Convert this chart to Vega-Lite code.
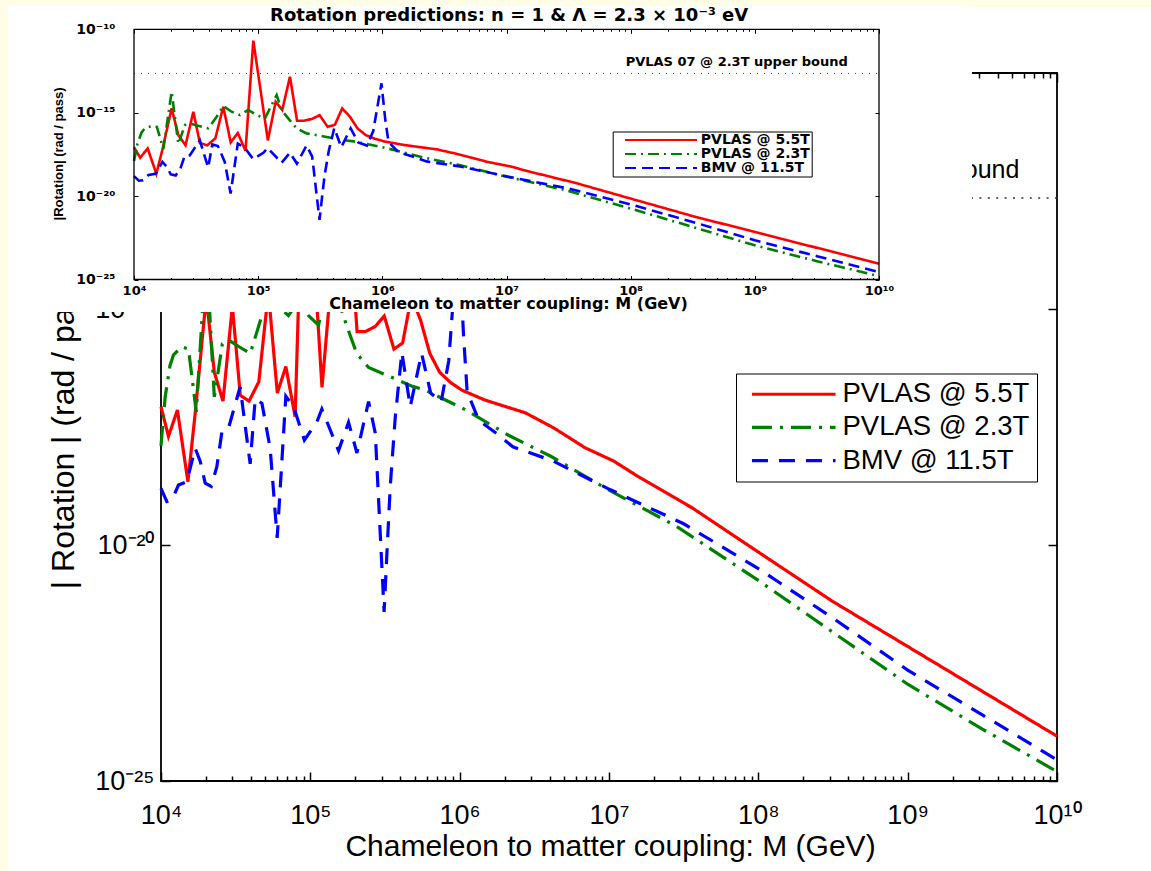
{
  "$schema": "https://vega.github.io/schema/vega-lite/v6.json",
  "width": 896,
  "height": 708,
  "autosize": {"type": "none"},
  "padding": {"left": 161, "top": 73, "right": 94, "bottom": 90},
  "background": "white",
  "config": {
    "view": {"stroke": "black", "strokeWidth": 1.8},
    "axis": {"domain": false, "grid": false, "tickColor": "black", "labelColor": "black", "titleColor": "black", "labelFlush": false, "labelOverlap": false, "labelBound": false}
  },
  "datasets": {
    "curves": [
      {"M": 1e4, "R": 8.51e-18, "s": "PVLAS @ 5.5T"},
      {"M": 1.122e4, "R": 2.0e-18, "s": "PVLAS @ 5.5T"},
      {"M": 1.288e4, "R": 7.24e-18, "s": "PVLAS @ 5.5T"},
      {"M": 1.514e4, "R": 2.19e-19, "s": "PVLAS @ 5.5T"},
      {"M": 1.69e4, "R": 5.75e-18, "s": "PVLAS @ 5.5T"},
      {"M": 2.01e4, "R": 1.82e-15, "s": "PVLAS @ 5.5T"},
      {"M": 2.275e4, "R": 4.57e-17, "s": "PVLAS @ 5.5T"},
      {"M": 2.6e4, "R": 1.12e-17, "s": "PVLAS @ 5.5T"},
      {"M": 3.006e4, "R": 1.148e-15, "s": "PVLAS @ 5.5T"},
      {"M": 3.396e4, "R": 1.479e-17, "s": "PVLAS @ 5.5T"},
      {"M": 3.89e4, "R": 1.12e-17, "s": "PVLAS @ 5.5T"},
      {"M": 4.52e4, "R": 2.88e-17, "s": "PVLAS @ 5.5T"},
      {"M": 5.236e4, "R": 2.29e-15, "s": "PVLAS @ 5.5T"},
      {"M": 6.01e4, "R": 1.66e-17, "s": "PVLAS @ 5.5T"},
      {"M": 6.855e4, "R": 6.03e-17, "s": "PVLAS @ 5.5T"},
      {"M": 7.907e4, "R": 5.25e-18, "s": "PVLAS @ 5.5T"},
      {"M": 9.14e4, "R": 2.09e-11, "s": "PVLAS @ 5.5T"},
      {"M": 1.197e5, "R": 2.19e-17, "s": "PVLAS @ 5.5T"},
      {"M": 1.384e5, "R": 4.57e-15, "s": "PVLAS @ 5.5T"},
      {"M": 1.563e5, "R": 1.445e-15, "s": "PVLAS @ 5.5T"},
      {"M": 1.803e5, "R": 1.445e-13, "s": "PVLAS @ 5.5T"},
      {"M": 2.056e5, "R": 3.31e-16, "s": "PVLAS @ 5.5T"},
      {"M": 2.333e5, "R": 3.31e-16, "s": "PVLAS @ 5.5T"},
      {"M": 2.72e5, "R": 4.27e-16, "s": "PVLAS @ 5.5T"},
      {"M": 3.126e5, "R": 7.08e-16, "s": "PVLAS @ 5.5T"},
      {"M": 3.63e5, "R": 1.413e-16, "s": "PVLAS @ 5.5T"},
      {"M": 4.15e5, "R": 1.905e-16, "s": "PVLAS @ 5.5T"},
      {"M": 4.75e5, "R": 1.82e-15, "s": "PVLAS @ 5.5T"},
      {"M": 5.48e5, "R": 5.75e-16, "s": "PVLAS @ 5.5T"},
      {"M": 6.31e5, "R": 1.148e-16, "s": "PVLAS @ 5.5T"},
      {"M": 7.345e5, "R": 4.57e-17, "s": "PVLAS @ 5.5T"},
      {"M": 8.71e5, "R": 2.754e-17, "s": "PVLAS @ 5.5T"},
      {"M": 1.035e6, "R": 1.905e-17, "s": "PVLAS @ 5.5T"},
      {"M": 1.479e6, "R": 1.175e-17, "s": "PVLAS @ 5.5T"},
      {"M": 2.754e6, "R": 6.31e-18, "s": "PVLAS @ 5.5T"},
      {"M": 4.266e6, "R": 3.02e-18, "s": "PVLAS @ 5.5T"},
      {"M": 6.918e6, "R": 1.148e-18, "s": "PVLAS @ 5.5T"},
      {"M": 1.072e7, "R": 6.03e-19, "s": "PVLAS @ 5.5T"},
      {"M": 1.549e7, "R": 2.884e-19, "s": "PVLAS @ 5.5T"},
      {"M": 3.631e7, "R": 6.03e-20, "s": "PVLAS @ 5.5T"},
      {"M": 1e8, "R": 7.08e-21, "s": "PVLAS @ 5.5T"},
      {"M": 3.162e8, "R": 6.31e-22, "s": "PVLAS @ 5.5T"},
      {"M": 1e9, "R": 7.08e-23, "s": "PVLAS @ 5.5T"},
      {"M": 3.162e9, "R": 7.94e-24, "s": "PVLAS @ 5.5T"},
      {"M": 1e10, "R": 8.91e-25, "s": "PVLAS @ 5.5T"},

      {"M": 1e4, "R": 1.259e-18, "s": "PVLAS @ 2.3T"},
      {"M": 1.067e4, "R": 1.38e-17, "s": "PVLAS @ 2.3T"},
      {"M": 1.148e4, "R": 6.31e-17, "s": "PVLAS @ 2.3T"},
      {"M": 1.213e4, "R": 1.072e-16, "s": "PVLAS @ 2.3T"},
      {"M": 1.38e4, "R": 1.585e-16, "s": "PVLAS @ 2.3T"},
      {"M": 1.528e4, "R": 1.413e-16, "s": "PVLAS @ 2.3T"},
      {"M": 1.722e4, "R": 6.61e-18, "s": "PVLAS @ 2.3T"},
      {"M": 2.01e4, "R": 1.82e-14, "s": "PVLAS @ 2.3T"},
      {"M": 2.275e4, "R": 1.38e-17, "s": "PVLAS @ 2.3T"},
      {"M": 2.576e4, "R": 1.82e-16, "s": "PVLAS @ 2.3T"},
      {"M": 2.911e4, "R": 2.089e-16, "s": "PVLAS @ 2.3T"},
      {"M": 3.334e4, "R": 1.585e-16, "s": "PVLAS @ 2.3T"},
      {"M": 3.963e4, "R": 1.148e-16, "s": "PVLAS @ 2.3T"},
      {"M": 4.634e4, "R": 5.75e-16, "s": "PVLAS @ 2.3T"},
      {"M": 5.236e4, "R": 2.512e-15, "s": "PVLAS @ 2.3T"},
      {"M": 6.11e4, "R": 1.148e-15, "s": "PVLAS @ 2.3T"},
      {"M": 7.13e4, "R": 7.24e-16, "s": "PVLAS @ 2.3T"},
      {"M": 8.318e4, "R": 1.445e-15, "s": "PVLAS @ 2.3T"},
      {"M": 9.727e4, "R": 7.24e-16, "s": "PVLAS @ 2.3T"},
      {"M": 1.135e5, "R": 4.57e-16, "s": "PVLAS @ 2.3T"},
      {"M": 1.282e5, "R": 2.884e-15, "s": "PVLAS @ 2.3T"},
      {"M": 1.409e5, "R": 1.148e-14, "s": "PVLAS @ 2.3T"},
      {"M": 1.545e5, "R": 1.445e-15, "s": "PVLAS @ 2.3T"},
      {"M": 1.746e5, "R": 4.57e-16, "s": "PVLAS @ 2.3T"},
      {"M": 2.042e5, "R": 1.148e-16, "s": "PVLAS @ 2.3T"},
      {"M": 2.455e5, "R": 5.75e-17, "s": "PVLAS @ 2.3T"},
      {"M": 3.467e5, "R": 3.63e-17, "s": "PVLAS @ 2.3T"},
      {"M": 4.842e5, "R": 2.291e-17, "s": "PVLAS @ 2.3T"},
      {"M": 5.888e5, "R": 1.905e-17, "s": "PVLAS @ 2.3T"},
      {"M": 1.072e6, "R": 7.59e-18, "s": "PVLAS @ 2.3T"},
      {"M": 2.138e6, "R": 2.089e-18, "s": "PVLAS @ 2.3T"},
      {"M": 4.074e6, "R": 7.59e-19, "s": "PVLAS @ 2.3T"},
      {"M": 9.772e6, "R": 1.514e-19, "s": "PVLAS @ 2.3T"},
      {"M": 2.818e7, "R": 2.512e-20, "s": "PVLAS @ 2.3T"},
      {"M": 1e8, "R": 1.778e-21, "s": "PVLAS @ 2.3T"},
      {"M": 3.162e8, "R": 1.413e-22, "s": "PVLAS @ 2.3T"},
      {"M": 1e9, "R": 1.122e-23, "s": "PVLAS @ 2.3T"},
      {"M": 3.162e9, "R": 1.259e-24, "s": "PVLAS @ 2.3T"},
      {"M": 1e10, "R": 1.585e-25, "s": "PVLAS @ 2.3T"},

      {"M": 1e4, "R": 1.585e-19, "s": "BMV @ 11.5T"},
      {"M": 1.094e4, "R": 8.32e-20, "s": "BMV @ 11.5T"},
      {"M": 1.183e4, "R": 8.91e-20, "s": "BMV @ 11.5T"},
      {"M": 1.309e4, "R": 1.862e-19, "s": "BMV @ 11.5T"},
      {"M": 1.489e4, "R": 2.188e-19, "s": "BMV @ 11.5T"},
      {"M": 1.694e4, "R": 1.122e-18, "s": "BMV @ 11.5T"},
      {"M": 1.832e4, "R": 5.89e-19, "s": "BMV @ 11.5T"},
      {"M": 1.977e4, "R": 2.042e-19, "s": "BMV @ 11.5T"},
      {"M": 2.168e4, "R": 1.738e-19, "s": "BMV @ 11.5T"},
      {"M": 2.366e4, "R": 4.57e-19, "s": "BMV @ 11.5T"},
      {"M": 2.559e4, "R": 2.512e-18, "s": "BMV @ 11.5T"},
      {"M": 2.818e4, "R": 2.818e-18, "s": "BMV @ 11.5T"},
      {"M": 3.388e4, "R": 2.239e-17, "s": "BMV @ 11.5T"},
      {"M": 3.954e4, "R": 5.25e-19, "s": "BMV @ 11.5T"},
      {"M": 4.276e4, "R": 1.259e-17, "s": "BMV @ 11.5T"},
      {"M": 4.742e4, "R": 1.0e-17, "s": "BMV @ 11.5T"},
      {"M": 5.383e4, "R": 1.122e-18, "s": "BMV @ 11.5T"},
      {"M": 5.998e4, "R": 1.413e-20, "s": "BMV @ 11.5T"},
      {"M": 6.855e4, "R": 1.413e-17, "s": "BMV @ 11.5T"},
      {"M": 7.727e4, "R": 8.51e-18, "s": "BMV @ 11.5T"},
      {"M": 9.12e4, "R": 1.66e-18, "s": "BMV @ 11.5T"},
      {"M": 1.107e5, "R": 4.07e-18, "s": "BMV @ 11.5T"},
      {"M": 1.194e5, "R": 7.59e-18, "s": "BMV @ 11.5T"},
      {"M": 1.545e5, "R": 1.0e-18, "s": "BMV @ 11.5T"},
      {"M": 1.803e5, "R": 3.98e-18, "s": "BMV @ 11.5T"},
      {"M": 2.051e5, "R": 8.91e-19, "s": "BMV @ 11.5T"},
      {"M": 2.455e5, "R": 1.096e-17, "s": "BMV @ 11.5T"},
      {"M": 2.723e5, "R": 2.344e-18, "s": "BMV @ 11.5T"},
      {"M": 2.938e5, "R": 1.778e-20, "s": "BMV @ 11.5T"},
      {"M": 3.119e5, "R": 3.8e-22, "s": "BMV @ 11.5T"},
      {"M": 3.258e5, "R": 6.76e-21, "s": "BMV @ 11.5T"},
      {"M": 3.428e5, "R": 1.738e-19, "s": "BMV @ 11.5T"},
      {"M": 3.707e5, "R": 5.25e-18, "s": "BMV @ 11.5T"},
      {"M": 4.102e5, "R": 1.202e-16, "s": "BMV @ 11.5T"},
      {"M": 4.667e5, "R": 8.51e-18, "s": "BMV @ 11.5T"},
      {"M": 5.559e5, "R": 1.148e-16, "s": "BMV @ 11.5T"},
      {"M": 6.397e5, "R": 1.66e-17, "s": "BMV @ 11.5T"},
      {"M": 7.516e5, "R": 1.072e-17, "s": "BMV @ 11.5T"},
      {"M": 8.45e5, "R": 7.94e-17, "s": "BMV @ 11.5T"},
      {"M": 9.84e5, "R": 5.754e-14, "s": "BMV @ 11.5T"},
      {"M": 1.059e6, "R": 3.16e-16, "s": "BMV @ 11.5T"},
      {"M": 1.122e6, "R": 1.778e-17, "s": "BMV @ 11.5T"},
      {"M": 1.343e6, "R": 4.365e-18, "s": "BMV @ 11.5T"},
      {"M": 1.774e6, "R": 2.291e-18, "s": "BMV @ 11.5T"},
      {"M": 2.27e6, "R": 1.202e-18, "s": "BMV @ 11.5T"},
      {"M": 4.217e6, "R": 6.03e-19, "s": "BMV @ 11.5T"},
      {"M": 9.772e6, "R": 1.585e-19, "s": "BMV @ 11.5T"},
      {"M": 3.162e7, "R": 2.818e-20, "s": "BMV @ 11.5T"},
      {"M": 1e8, "R": 3.162e-21, "s": "BMV @ 11.5T"},
      {"M": 3.162e8, "R": 2.818e-22, "s": "BMV @ 11.5T"},
      {"M": 1e9, "R": 2.239e-23, "s": "BMV @ 11.5T"},
      {"M": 3.162e9, "R": 2.512e-24, "s": "BMV @ 11.5T"},
      {"M": 1e10, "R": 2.818e-25, "s": "BMV @ 11.5T"}
    ]
  },
  "layer": [
    {
      "layer": [
        {
          "data": {"values": [{}]},
          "mark": {"type": "rect", "color": "#fffde6"},
          "encoding": {
            "x": {"datum": 100, "type": "quantitative", "scale": {"type": "log", "domain": [1e4, 1e10], "nice": false}, "axis": null},
            "x2": {"datum": 945},
            "y": {"datum": 1e-5, "type": "quantitative", "scale": {"type": "log", "domain": [1e-25, 1e-10], "nice": false}, "axis": null},
            "y2": {"datum": 1e-30}
          }
        },
        {
          "data": {"values": [{}]},
          "mark": {"type": "rect", "color": "#fffde6"},
          "encoding": {
            "x": {"datum": 100, "type": "quantitative", "scale": {"type": "log", "domain": [1e4, 1e10], "nice": false}, "axis": null},
            "x2": {"datum": 1e12},
            "y": {"datum": 1e-5, "type": "quantitative", "scale": {"type": "log", "domain": [1e-25, 1e-10], "nice": false}, "axis": null},
            "y2": {"datum": 2.5e-9}
          }
        },
        {
          "data": {"name": "curves"},
          "mark": {"type": "line", "strokeWidth": 3.2},
          "encoding": {
            "x": {"field": "M", "type": "quantitative", "scale": {"type": "log", "domain": [1e4, 1e10], "nice": false},
              "axis": {"orient": "bottom", "zindex": 0,
                "values": [1e4,2e4,3e4,4e4,5e4,6e4,7e4,8e4,9e4,1e5,2e5,3e5,4e5,5e5,6e5,7e5,8e5,9e5,1e6,2e6,3e6,4e6,5e6,6e6,7e6,8e6,9e6,1e7,2e7,3e7,4e7,5e7,6e7,7e7,8e7,9e7,1e8,2e8,3e8,4e8,5e8,6e8,7e8,8e8,9e8,1e9,2e9,3e9,4e9,5e9,6e9,7e9,8e9,9e9,1e10],
                "tickSize": {"condition": {"test": "abs(log(datum.value)/LN10 - round(log(datum.value)/LN10)) < 0.001", "value": -9}, "value": -5},
                "tickWidth": 1.5,
                "labelExpr": "abs(log(datum.value)/LN10 - round(log(datum.value)/LN10)) < 0.001 ? '10' + ['⁴','⁵','⁶','⁷','⁸','⁹','¹⁰'][round(log(datum.value)/LN10) - 4] : ''",
                "labelFont": "Liberation Sans", "labelFontSize": 27, "labelBaseline": "alphabetic", "labelPadding": 51,
                "title": "Chameleon to matter coupling: M (GeV)", "titleFont": "Liberation Sans", "titleFontSize": 30, "titleFontWeight": "normal",
                "titleX": 449, "titleY": 74, "titleAlign": "center", "titleBaseline": "alphabetic", "titleAngle": 0}},
            "y": {"field": "R", "type": "quantitative", "scale": {"type": "log", "domain": [1e-25, 1e-10], "nice": false},
              "axis": {"orient": "left", "zindex": 0, "values": [1e-25, 1e-20, 1e-15, 1e-10],
                "tickSize": -9, "tickWidth": 1.5,
                "labelExpr": "'10' + ['⁻²⁵','⁻²⁰','⁻¹⁵','⁻¹⁰'][round((log(datum.value)/LN10 + 25) / 5)]",
                "labelFont": "Liberation Sans", "labelFontSize": 27, "labelBaseline": "middle", "labelPadding": 16,
                "title": "| Rotation | (rad / pass)", "titleFont": "Liberation Sans", "titleFontSize": 32, "titleFontWeight": "normal",
                "titleX": -88, "titleY": 353.5, "titleAngle": 270, "titleAlign": "center", "titleBaseline": "alphabetic"}},
            "color": {"field": "s", "type": "nominal",
              "scale": {"domain": ["PVLAS @ 5.5T", "PVLAS @ 2.3T", "BMV @ 11.5T"], "range": ["#ff0000", "#008000", "#0000ff"]},
              "legend": {"orient": "none", "legendX": 575, "legendY": 300.5, "title": null, "symbolType": "M-6,0H6", "symbolSize": 194, "symbolStrokeWidth": 3.2,
                "labelFont": "Liberation Sans", "labelFontSize": 27.5, "labelColor": "black", "labelOffset": 35, "labelLimit": 400,
                "padding": 7, "symbolOffset": 37, "strokeColor": "black", "fillColor": "white", "rowPadding": 4.2}},
            "strokeDash": {"field": "s", "type": "nominal",
              "scale": {"domain": ["PVLAS @ 5.5T", "PVLAS @ 2.3T", "BMV @ 11.5T"], "range": [[1, 0], [20, 8, 3, 8], [16, 11]]},
              "legend": {"orient": "none", "legendX": 575, "legendY": 300.5, "title": null, "symbolType": "M-6,0H6", "symbolSize": 194, "symbolStrokeWidth": 3.2,
                "labelFont": "Liberation Sans", "labelFontSize": 27.5, "labelColor": "black", "labelOffset": 35, "labelLimit": 400,
                "padding": 7, "symbolOffset": 37, "strokeColor": "black", "fillColor": "white", "rowPadding": 4.2}}
          }
        },
        {
          "data": {"values": [{}]},
          "mark": {"type": "rule", "strokeDash": [2, 6.4], "strokeWidth": 1.5, "color": "#333333"},
          "encoding": {
            "y": {"datum": 2.25e-13, "type": "quantitative", "scale": {"type": "log", "domain": [1e-25, 1e-10], "nice": false}, "axis": null}
          }
        },
        {
          "data": {"values": [{}]},
          "mark": {"type": "text", "text": "PVLAS 07 @ 2.3T upper bound", "align": "right", "baseline": "alphabetic", "font": "Liberation Sans", "fontSize": 25, "color": "black"},
          "encoding": {
            "x": {"datum": 5.6e9, "type": "quantitative", "scale": {"type": "log", "domain": [1e4, 1e10], "nice": false},
              "axis": {"orient": "top", "zindex": 0, "labels": false, "title": null,
                "values": [1e4,2e4,3e4,4e4,5e4,6e4,7e4,8e4,9e4,1e5,2e5,3e5,4e5,5e5,6e5,7e5,8e5,9e5,1e6,2e6,3e6,4e6,5e6,6e6,7e6,8e6,9e6,1e7,2e7,3e7,4e7,5e7,6e7,7e7,8e7,9e7,1e8,2e8,3e8,4e8,5e8,6e8,7e8,8e8,9e8,1e9,2e9,3e9,4e9,5e9,6e9,7e9,8e9,9e9,1e10],
                "tickSize": {"condition": {"test": "abs(log(datum.value)/LN10 - round(log(datum.value)/LN10)) < 0.001", "value": -9}, "value": -5},
                "tickWidth": 1.5}},
            "y": {"datum": 6.1e-13, "type": "quantitative", "scale": {"type": "log", "domain": [1e-25, 1e-10], "nice": false},
              "axis": {"orient": "right", "zindex": 0, "labels": false, "title": null, "values": [1e-25, 1e-20, 1e-15, 1e-10], "tickSize": -9, "tickWidth": 1.5}}
          }
        }
      ],
      "resolve": {"axis": {"x": "independent", "y": "independent"}}
    },
    {
      "layer": [
        {
          "data": {"values": [{}]},
          "mark": {"type": "rect", "color": "white"},
          "encoding": {
            "x": {"datum": 966.7, "type": "quantitative", "scale": {"type": "log", "domain": [1e4, 1e10], "nice": false, "range": [-27, 718]}, "axis": null},
            "x2": {"datum": 5.61e10},
            "y": {"datum": 2.49e-9, "type": "quantitative", "scale": {"type": "log", "domain": [1e-25, 1e-10], "nice": false, "range": [206.5, -43.7]}, "axis": null},
            "y2": {"datum": 1.12e-27}
          }
        },
        {
          "data": {"values": [{}]},
          "mark": {"type": "rule", "strokeDash": [1, 6], "strokeWidth": 1, "color": "#444444"},
          "encoding": {
            "x": {"datum": 1e4, "type": "quantitative", "scale": {"type": "log", "domain": [1e4, 1e10], "nice": false, "range": [-27, 718]}, "axis": null},
            "x2": {"datum": 1e10},
            "y": {"datum": 2.25e-13, "type": "quantitative", "scale": {"type": "log", "domain": [1e-25, 1e-10], "nice": false, "range": [206.5, -43.7]}, "axis": null}
          }
        },
        {
          "data": {"name": "curves"},
          "mark": {"type": "line", "strokeWidth": 2.6},
          "encoding": {
            "x": {"field": "M", "type": "quantitative", "scale": {"type": "log", "domain": [1e4, 1e10], "nice": false, "range": [-27, 718]},
              "axis": {"orient": "bottom", "offset": -501.5, "zindex": 1,
                "values": [1e4,2e4,3e4,4e4,5e4,6e4,7e4,8e4,9e4,1e5,2e5,3e5,4e5,5e5,6e5,7e5,8e5,9e5,1e6,2e6,3e6,4e6,5e6,6e6,7e6,8e6,9e6,1e7,2e7,3e7,4e7,5e7,6e7,7e7,8e7,9e7,1e8,2e8,3e8,4e8,5e8,6e8,7e8,8e8,9e8,1e9,2e9,3e9,4e9,5e9,6e9,7e9,8e9,9e9,1e10],
                "tickSize": {"condition": {"test": "abs(log(datum.value)/LN10 - round(log(datum.value)/LN10)) < 0.001", "value": -4}, "value": -2},
                "tickWidth": 1,
                "labelExpr": "abs(log(datum.value)/LN10 - round(log(datum.value)/LN10)) < 0.001 ? '10' + ['⁴','⁵','⁶','⁷','⁸','⁹','¹⁰'][round(log(datum.value)/LN10) - 4] : ''",
                "labelFont": "DejaVu Sans", "labelFontWeight": "bold", "labelFontSize": 13, "labelBaseline": "alphabetic", "labelPadding": 18.5,
                "title": "Chameleon to matter coupling: M (GeV)", "titleFont": "DejaVu Sans", "titleFontSize": 16, "titleFontWeight": "bold",
                "titleX": 347, "titleY": 29, "titleAlign": "center", "titleBaseline": "alphabetic", "titleAngle": 0}},
            "y": {"field": "R", "type": "quantitative", "scale": {"type": "log", "domain": [1e-25, 1e-10], "nice": false, "range": [206.5, -43.7]},
              "axis": {"orient": "left", "offset": 27, "zindex": 1, "values": [1e-25, 1e-20, 1e-15, 1e-10],
                "tickSize": -4, "tickWidth": 1,
                "labelExpr": "'10' + ['⁻²⁵','⁻²⁰','⁻¹⁵','⁻¹⁰'][round((log(datum.value)/LN10 + 25) / 5)]",
                "labelFont": "DejaVu Sans", "labelFontWeight": "bold", "labelFontSize": 14, "labelBaseline": "middle", "labelPadding": 23,
                "title": "|Rotation| (rad / pass)", "titleFont": "Liberation Sans", "titleFontSize": 13, "titleFontWeight": "bold",
                "titleX": -72, "titleY": 80.5, "titleAngle": 270, "titleAlign": "center", "titleBaseline": "alphabetic"}},
            "color": {"field": "s", "type": "nominal",
              "scale": {"domain": ["PVLAS @ 5.5T", "PVLAS @ 2.3T", "BMV @ 11.5T"], "range": ["#ff0000", "#008000", "#0000ff"]},
              "legend": {"orient": "none", "legendX": 451.7, "legendY": 58.5, "title": null, "symbolType": "M-6,0H6", "symbolSize": 144, "symbolStrokeWidth": 2,
                "labelFont": "DejaVu Sans", "labelFontWeight": "bold", "labelFontSize": 14, "labelColor": "black", "labelOffset": 32.8, "labelLimit": 400,
                "padding": 1.5, "symbolOffset": 39.8, "strokeColor": "black", "fillColor": "white", "rowPadding": -4}},
            "strokeDash": {"field": "s", "type": "nominal",
              "scale": {"domain": ["PVLAS @ 5.5T", "PVLAS @ 2.3T", "BMV @ 11.5T"], "range": [[1, 0], [11, 5, 2, 5], [11, 6]]},
              "legend": {"orient": "none", "legendX": 451.7, "legendY": 58.5, "title": null, "symbolType": "M-6,0H6", "symbolSize": 144, "symbolStrokeWidth": 2,
                "labelFont": "DejaVu Sans", "labelFontWeight": "bold", "labelFontSize": 14, "labelColor": "black", "labelOffset": 32.8, "labelLimit": 400,
                "padding": 1.5, "symbolOffset": 39.8, "strokeColor": "black", "fillColor": "white", "rowPadding": -4}}
          }
        },
        {
          "data": {"values": [{}]},
          "mark": {"type": "rect", "fill": "transparent", "stroke": "black", "strokeWidth": 1.3},
          "encoding": {
            "x": {"datum": 1e4, "type": "quantitative", "scale": {"type": "log", "domain": [1e4, 1e10], "nice": false, "range": [-27, 718]},
              "axis": {"orient": "top", "offset": 43.7, "zindex": 1, "labels": false, "title": null,
                "values": [1e4,2e4,3e4,4e4,5e4,6e4,7e4,8e4,9e4,1e5,2e5,3e5,4e5,5e5,6e5,7e5,8e5,9e5,1e6,2e6,3e6,4e6,5e6,6e6,7e6,8e6,9e6,1e7,2e7,3e7,4e7,5e7,6e7,7e7,8e7,9e7,1e8,2e8,3e8,4e8,5e8,6e8,7e8,8e8,9e8,1e9,2e9,3e9,4e9,5e9,6e9,7e9,8e9,9e9,1e10],
                "tickSize": {"condition": {"test": "abs(log(datum.value)/LN10 - round(log(datum.value)/LN10)) < 0.001", "value": -4}, "value": -2},
                "tickWidth": 1}},
            "x2": {"datum": 1e10},
            "y": {"datum": 1e-25, "type": "quantitative", "scale": {"type": "log", "domain": [1e-25, 1e-10], "nice": false, "range": [206.5, -43.7]},
              "axis": {"orient": "right", "offset": -178, "zindex": 1, "labels": false, "title": null, "values": [1e-25, 1e-20, 1e-15, 1e-10], "tickSize": -4, "tickWidth": 1}},
            "y2": {"datum": 1e-10}
          }
        },
        {
          "data": {"values": [{}]},
          "mark": {"type": "text", "text": "PVLAS 07 @ 2.3T upper bound", "align": "right", "baseline": "alphabetic", "font": "DejaVu Sans", "fontWeight": "bold", "fontSize": 13, "color": "black"},
          "encoding": {
            "x": {"datum": 5.6e9, "type": "quantitative", "scale": {"type": "log", "domain": [1e4, 1e10], "nice": false, "range": [-27, 718]}, "axis": null},
            "y": {"datum": 6.1e-13, "type": "quantitative", "scale": {"type": "log", "domain": [1e-25, 1e-10], "nice": false, "range": [206.5, -43.7]}, "axis": null}
          }
        },
        {
          "data": {"values": [{}]},
          "mark": {"type": "text", "text": "Rotation predictions: n = 1 & Λ = 2.3 × 10⁻³  eV", "align": "center", "baseline": "alphabetic", "font": "DejaVu Sans", "fontWeight": "bold", "fontSize": 18, "color": "black"},
          "encoding": {
            "x": {"datum": 1.05e7, "type": "quantitative", "scale": {"type": "log", "domain": [1e4, 1e10], "nice": false, "range": [-27, 718]}, "axis": null},
            "y": {"datum": 3.28e-10, "type": "quantitative", "scale": {"type": "log", "domain": [1e-25, 1e-10], "nice": false, "range": [206.5, -43.7]}, "axis": null}
          }
        }
      ],
      "resolve": {"axis": {"x": "independent", "y": "independent"}}
    }
  ],
  "resolve": {
    "scale": {"x": "independent", "y": "independent", "color": "independent", "strokeDash": "independent"},
    "axis": {"x": "independent", "y": "independent"},
    "legend": {"color": "independent", "strokeDash": "independent"}
  }
}
